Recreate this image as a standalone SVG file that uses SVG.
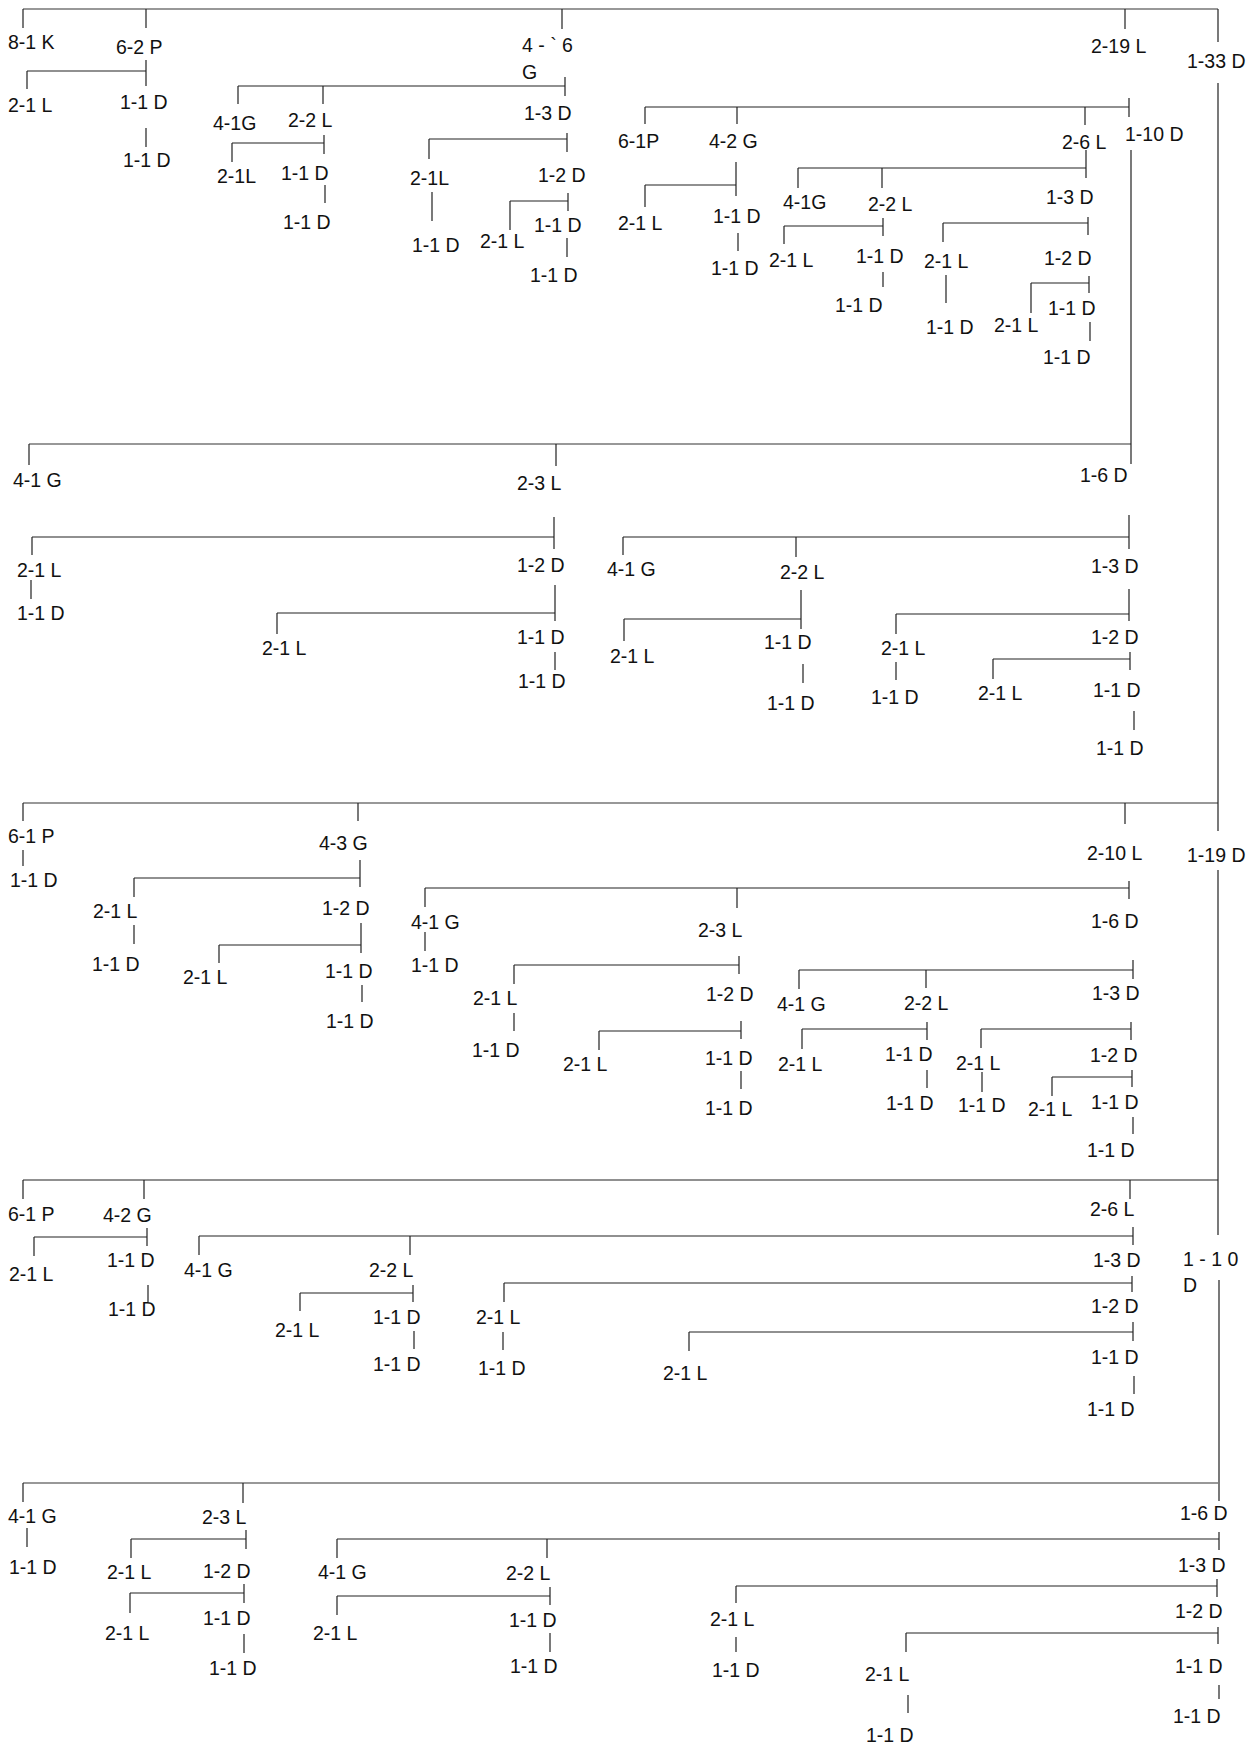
<svg xmlns="http://www.w3.org/2000/svg" width="1259" height="1745" viewBox="0 0 1259 1745">
<style>
text{font-family:"Liberation Sans",Arial,sans-serif;font-size:19.5px;fill:#111}
.k{fill:none;stroke:#222;stroke-width:1.2}
.g{fill:none;stroke:#777;stroke-width:1.6}
</style>
<rect width="1259" height="1745" fill="#fff"/>
<g id="connectors">
<path class="g" d="M23 9H1218M29 444H1131M23 803H1218M23 1483H1218"/>
<path class="k" d="M23 1180H1218"/>
<path class="k" d="M23 9V28M146 9V28M562 9V29M1125 9V29M1218 9V42M1218 83V831M1218 870V1235M1219 1280V1501"/>
<path class="k" d="M146 60V86M27 71H146M27 71V89M146 128V147"/>
<path class="k" d="M565 77V96M238 86H565M238 86V104M323 86V104M324 135V154M232 143H324M232 143V162M325 185V203M567 133V152M429 139H567M429 139V159M432 192V221M568 193V211M510 201H568M510 201V230M567 238V257"/>
<path class="k" d="M645 107H1129M1129 98V117M645 107V124M737 107V124M1085 107V125M1131 150V464M736 162V196M645 185H736M645 185V207M738 233V251M1086 150V178M798 168H1086M798 168V188M882 168V188M883 218V236M784 226H883M784 226V244M883 272V287M1088 217V235M943 223H1088M943 223V242M946 275V303M1089 276V293M1031 283H1089M1031 283V313M1090 322V341"/>
<path class="k" d="M29 444V465M556 444V466M554 517V549M32 537H554M32 537V555M31 580V599M555 585V621M277 613H555M277 613V634M555 652V670M1129 515V549M623 537H1129M623 537V555M796 537V557M801 590V629M624 619H801M624 619V641M803 664V683M1129 589V621M896 614H1129M896 614V634M896 662V680M1130 652V670M993 659H1130M993 659V679M1134 711V730"/>
<path class="k" d="M23 803V821M358 803V821M1125 803V824M23 850V866M360 860V887M134 878H360M134 878V897M134 925V944M361 923V953M219 945H361M219 945V963M362 985V1002M425 888H1129M1129 881V899M425 888V907M737 888V908M425 932V951M739 956V974M514 965H739M514 965V984M514 1013V1031M741 1021V1039M599 1031H741M599 1031V1050M741 1071V1089M799 970H1133M1133 960V979M799 970V989M926 970V988M927 1022V1040M802 1029H927M802 1029V1049M927 1070V1088M1131 1022V1040M981 1029H1131M981 1029V1048M982 1072V1092M1132 1070V1087M1052 1077H1132M1052 1077V1096M1133 1117V1134"/>
<path class="k" d="M23 1180V1199M144 1180V1199M1130 1180V1199M147 1228V1246M34 1237H147M34 1237V1256M148 1285V1302M199 1236H1133M1133 1227V1245M199 1236V1255M410 1236V1255M413 1285V1302M300 1293H413M300 1293V1311M414 1331V1349M1132 1276V1292M504 1283H1132M504 1283V1302M503 1332V1350M1133 1322V1341M689 1332H1133M689 1332V1351M1134 1376V1394"/>
<path class="k" d="M23 1483V1502M243 1483V1503M27 1528V1547M246 1530V1549M131 1539H246M131 1539V1558M244 1584V1603M130 1593H244M130 1593V1613M244 1634V1653M337 1539H1219M1219 1532V1550M337 1539V1558M547 1539V1558M550 1587V1605M337 1596H550M337 1596V1615M550 1633V1652M1217 1579V1597M736 1586H1217M736 1586V1603M736 1637V1652M1218 1627V1644M906 1633H1218M906 1633V1652M908 1695V1713M1219 1685V1699"/>
</g>
<g id="nodes">
<g id="n1"><text x="8" y="49">8-1 K</text></g>
<g id="n2"><text x="116" y="54">6-2 P</text></g>
<g id="n3"><text x="8" y="112">2-1 L</text></g>
<g id="n4"><text x="120" y="109">1-1 D</text></g>
<g id="n5"><text x="123" y="167">1-1 D</text></g>
<g id="n6"><text x="522" y="52">4 - ` 6</text><text x="522" y="79">G</text></g>
<g id="n7"><text x="213" y="130">4-1G</text></g>
<g id="n8"><text x="288" y="127">2-2 L</text></g>
<g id="n9"><text x="524" y="120">1-3 D</text></g>
<g id="n10"><text x="217" y="183">2-1L</text></g>
<g id="n11"><text x="281" y="180">1-1 D</text></g>
<g id="n12"><text x="283" y="229">1-1 D</text></g>
<g id="n13"><text x="410" y="185">2-1L</text></g>
<g id="n14"><text x="538" y="182">1-2 D</text></g>
<g id="n15"><text x="412" y="252">1-1 D</text></g>
<g id="n16"><text x="480" y="248">2-1 L</text></g>
<g id="n17"><text x="534" y="232">1-1 D</text></g>
<g id="n18"><text x="530" y="282">1-1 D</text></g>
<g id="n19"><text x="1091" y="53">2-19 L</text></g>
<g id="n20"><text x="1187" y="68">1-33 D</text></g>
<g id="n21"><text x="618" y="148">6-1P</text></g>
<g id="n22"><text x="709" y="148">4-2 G</text></g>
<g id="n23"><text x="1062" y="149">2-6 L</text></g>
<g id="n24"><text x="1125" y="141">1-10 D</text></g>
<g id="n25"><text x="618" y="230">2-1 L</text></g>
<g id="n26"><text x="713" y="223">1-1 D</text></g>
<g id="n27"><text x="711" y="275">1-1 D</text></g>
<g id="n28"><text x="783" y="209">4-1G</text></g>
<g id="n29"><text x="868" y="211">2-2 L</text></g>
<g id="n30"><text x="1046" y="204">1-3 D</text></g>
<g id="n31"><text x="769" y="267">2-1 L</text></g>
<g id="n32"><text x="856" y="263">1-1 D</text></g>
<g id="n33"><text x="835" y="312">1-1 D</text></g>
<g id="n34"><text x="924" y="268">2-1 L</text></g>
<g id="n35"><text x="1044" y="265">1-2 D</text></g>
<g id="n36"><text x="926" y="334">1-1 D</text></g>
<g id="n37"><text x="994" y="332">2-1 L</text></g>
<g id="n38"><text x="1048" y="315">1-1 D</text></g>
<g id="n39"><text x="1043" y="364">1-1 D</text></g>
<g id="n40"><text x="13" y="487">4-1 G</text></g>
<g id="n41"><text x="517" y="490">2-3 L</text></g>
<g id="n42"><text x="1080" y="482">1-6 D</text></g>
<g id="n43"><text x="17" y="577">2-1 L</text></g>
<g id="n44"><text x="517" y="572">1-2 D</text></g>
<g id="n45"><text x="17" y="620">1-1 D</text></g>
<g id="n46"><text x="262" y="655">2-1 L</text></g>
<g id="n47"><text x="517" y="644">1-1 D</text></g>
<g id="n48"><text x="518" y="688">1-1 D</text></g>
<g id="n49"><text x="607" y="576">4-1 G</text></g>
<g id="n50"><text x="780" y="579">2-2 L</text></g>
<g id="n51"><text x="1091" y="573">1-3 D</text></g>
<g id="n52"><text x="610" y="663">2-1 L</text></g>
<g id="n53"><text x="764" y="649">1-1 D</text></g>
<g id="n54"><text x="767" y="710">1-1 D</text></g>
<g id="n55"><text x="881" y="655">2-1 L</text></g>
<g id="n56"><text x="1091" y="644">1-2 D</text></g>
<g id="n57"><text x="871" y="704">1-1 D</text></g>
<g id="n58"><text x="978" y="700">2-1 L</text></g>
<g id="n59"><text x="1093" y="697">1-1 D</text></g>
<g id="n60"><text x="1096" y="755">1-1 D</text></g>
<g id="n61"><text x="8" y="843">6-1 P</text></g>
<g id="n62"><text x="319" y="850">4-3 G</text></g>
<g id="n63"><text x="1087" y="860">2-10 L</text></g>
<g id="n64"><text x="1187" y="862">1-19 D</text></g>
<g id="n65"><text x="10" y="887">1-1 D</text></g>
<g id="n66"><text x="93" y="918">2-1 L</text></g>
<g id="n67"><text x="322" y="915">1-2 D</text></g>
<g id="n68"><text x="92" y="971">1-1 D</text></g>
<g id="n69"><text x="183" y="984">2-1 L</text></g>
<g id="n70"><text x="325" y="978">1-1 D</text></g>
<g id="n71"><text x="326" y="1028">1-1 D</text></g>
<g id="n72"><text x="411" y="929">4-1 G</text></g>
<g id="n73"><text x="698" y="937">2-3 L</text></g>
<g id="n74"><text x="1091" y="928">1-6 D</text></g>
<g id="n75"><text x="411" y="972">1-1 D</text></g>
<g id="n76"><text x="473" y="1005">2-1 L</text></g>
<g id="n77"><text x="706" y="1001">1-2 D</text></g>
<g id="n78"><text x="472" y="1057">1-1 D</text></g>
<g id="n79"><text x="563" y="1071">2-1 L</text></g>
<g id="n80"><text x="705" y="1065">1-1 D</text></g>
<g id="n81"><text x="705" y="1115">1-1 D</text></g>
<g id="n82"><text x="777" y="1011">4-1 G</text></g>
<g id="n83"><text x="904" y="1010">2-2 L</text></g>
<g id="n84"><text x="1092" y="1000">1-3 D</text></g>
<g id="n85"><text x="778" y="1071">2-1 L</text></g>
<g id="n86"><text x="885" y="1061">1-1 D</text></g>
<g id="n87"><text x="886" y="1110">1-1 D</text></g>
<g id="n88"><text x="956" y="1070">2-1 L</text></g>
<g id="n89"><text x="1090" y="1062">1-2 D</text></g>
<g id="n90"><text x="958" y="1112">1-1 D</text></g>
<g id="n91"><text x="1028" y="1116">2-1 L</text></g>
<g id="n92"><text x="1091" y="1109">1-1 D</text></g>
<g id="n93"><text x="1087" y="1157">1-1 D</text></g>
<g id="n94"><text x="8" y="1221">6-1 P</text></g>
<g id="n95"><text x="103" y="1222">4-2 G</text></g>
<g id="n96"><text x="1090" y="1216">2-6 L</text></g>
<g id="n97"><text x="1183" y="1266">1 - 1 0</text><text x="1183" y="1292">D</text></g>
<g id="n98"><text x="9" y="1281">2-1 L</text></g>
<g id="n99"><text x="107" y="1267">1-1 D</text></g>
<g id="n100"><text x="108" y="1316">1-1 D</text></g>
<g id="n101"><text x="184" y="1277">4-1 G</text></g>
<g id="n102"><text x="369" y="1277">2-2 L</text></g>
<g id="n103"><text x="1093" y="1267">1-3 D</text></g>
<g id="n104"><text x="275" y="1337">2-1 L</text></g>
<g id="n105"><text x="373" y="1324">1-1 D</text></g>
<g id="n106"><text x="373" y="1371">1-1 D</text></g>
<g id="n107"><text x="476" y="1324">2-1 L</text></g>
<g id="n108"><text x="478" y="1375">1-1 D</text></g>
<g id="n109"><text x="1091" y="1313">1-2 D</text></g>
<g id="n110"><text x="663" y="1380">2-1 L</text></g>
<g id="n111"><text x="1091" y="1364">1-1 D</text></g>
<g id="n112"><text x="1087" y="1416">1-1 D</text></g>
<g id="n113"><text x="8" y="1523">4-1 G</text></g>
<g id="n114"><text x="9" y="1574">1-1 D</text></g>
<g id="n115"><text x="202" y="1524">2-3 L</text></g>
<g id="n116"><text x="1180" y="1520">1-6 D</text></g>
<g id="n117"><text x="107" y="1579">2-1 L</text></g>
<g id="n118"><text x="203" y="1578">1-2 D</text></g>
<g id="n119"><text x="105" y="1640">2-1 L</text></g>
<g id="n120"><text x="203" y="1625">1-1 D</text></g>
<g id="n121"><text x="209" y="1675">1-1 D</text></g>
<g id="n122"><text x="318" y="1579">4-1 G</text></g>
<g id="n123"><text x="506" y="1580">2-2 L</text></g>
<g id="n124"><text x="1178" y="1572">1-3 D</text></g>
<g id="n125"><text x="313" y="1640">2-1 L</text></g>
<g id="n126"><text x="509" y="1627">1-1 D</text></g>
<g id="n127"><text x="510" y="1673">1-1 D</text></g>
<g id="n128"><text x="710" y="1626">2-1 L</text></g>
<g id="n129"><text x="1175" y="1618">1-2 D</text></g>
<g id="n130"><text x="712" y="1677">1-1 D</text></g>
<g id="n131"><text x="865" y="1681">2-1 L</text></g>
<g id="n132"><text x="1175" y="1673">1-1 D</text></g>
<g id="n133"><text x="866" y="1742">1-1 D</text></g>
<g id="n134"><text x="1173" y="1723">1-1 D</text></g>
</g>
</svg>
